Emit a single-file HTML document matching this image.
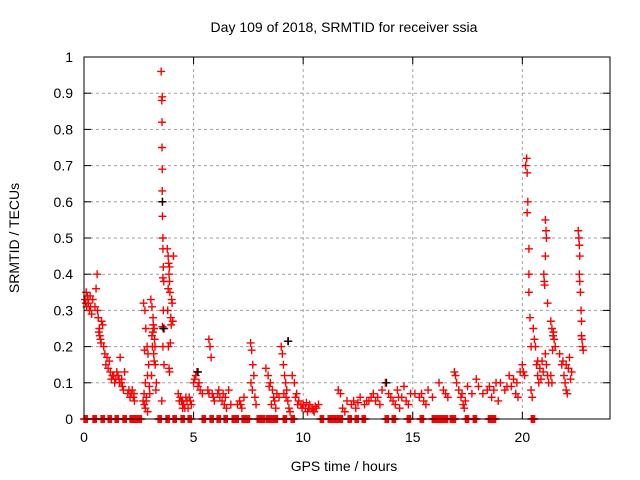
<!DOCTYPE html>
<html><head><meta charset="utf-8"><style>
body{margin:0;background:#fff;}
svg{display:block;font-family:"Liberation Sans",sans-serif;}
</style></head><body>
<svg id="chart" width="640" height="480" viewBox="0 0 640 480">
<rect width="640" height="480" fill="#fff"/>
<text x="344" y="32" font-size="14" text-anchor="middle">Day 109 of 2018, SRMTID for receiver ssia</text>
<text x="344" y="471" font-size="14" text-anchor="middle">GPS time / hours</text>
<text transform="translate(19,238) rotate(-90)" font-size="14" text-anchor="middle">SRMTID / TECUs</text>
<g id="grid"></g>
<g id="ticks"></g>
<g id="marks"></g>
<rect x="84" y="57" width="526" height="362" fill="none" stroke="#000" stroke-width="1"/>
</svg>
<script>
const xTicks=[0,5,10,15,20];
const yTicks=[0,0.1,0.2,0.3,0.4,0.5,0.6,0.7,0.8,0.9,1];
const yTickLabels=["0","0.1","0.2","0.3","0.4","0.5","0.6","0.7","0.8","0.9","1"];
const points=[
[0.05,0.33],[0.1,0.35],[0.15,0.34],[0.2,0.32],[0.25,0.30],[0.3,0.31],[0.35,0.29],[0.4,0.33],[0.12,0.31],[0.28,0.34],[0.08,0.32],[0.18,0.33],
[0.6,0.40],[0.55,0.36],[0.65,0.28],[0.7,0.25],[0.75,0.22],[0.8,0.27],[0.85,0.26],[0.9,0.20],[0.95,0.18],[0.72,0.23],[0.5,0.31],[0.62,0.30],[0.68,0.24],[0.78,0.21],
[1.0,0.15],[1.1,0.14],[1.2,0.13],[1.15,0.16],[1.3,0.12],[1.05,0.17],[1.4,0.10],[1.25,0.11],[1.35,0.12],[1.45,0.11],
[1.5,0.13],[1.6,0.11],[1.7,0.10],[1.75,0.09],[1.55,0.12],[1.65,0.17],[1.8,0.08],[1.85,0.13],[1.62,0.10],[1.72,0.11],
[2.0,0.07],[2.1,0.06],[2.2,0.08],[2.3,0.05],[2.25,0.06],[2.15,0.07],[2.05,0.08],[2.28,0.07],
[2.7,0.05],[2.75,0.04],[2.8,0.03],[2.85,0.06],[2.9,0.02],[2.72,0.32],[2.78,0.30],[2.82,0.25],[2.88,0.20],[2.92,0.18],[2.95,0.15],[2.8,0.10],[2.9,0.12],[2.98,0.09],[3.0,0.07],[2.76,0.19],[2.84,0.05],[2.74,0.07],
[3.05,0.33],[3.1,0.31],[3.15,0.28],[3.2,0.25],[3.22,0.22],[3.12,0.20],[3.18,0.18],[3.25,0.15],[3.08,0.12],[3.3,0.10],[3.28,0.08],[3.14,0.24],[3.2,0.16],[3.1,0.23],[3.16,0.26],[3.24,0.2],
[3.52,0.96],[3.55,0.88],[3.57,0.89],[3.56,0.82],[3.56,0.75],[3.57,0.69],[3.57,0.63],[3.58,0.60],[3.58,0.56],[3.6,0.50],[3.6,0.47],[3.62,0.42],[3.6,0.39],[3.64,0.38],[3.62,0.30],[3.66,0.25],[3.6,0.20],[3.65,0.15],[3.55,0.05],[3.58,0.255],
[3.8,0.47],[3.84,0.45],[3.86,0.43],[3.88,0.40],[3.9,0.38],[3.92,0.35],[3.82,0.30],[3.96,0.28],[3.98,0.26],[3.85,0.20],[3.88,0.14],[3.9,0.13],[4.0,0.33],[4.02,0.32],[4.05,0.27],[3.94,0.21],[4.08,0.45],[3.9,0.42],[3.84,0.36],
[4.3,0.07],[4.4,0.06],[4.5,0.05],[4.55,0.04],[4.6,0.03],[4.7,0.05],[4.8,0.06],[4.9,0.04],[4.45,0.05],[4.65,0.06],[4.75,0.03],[4.35,0.05],[4.5,0.03],[4.85,0.05],
[5.0,0.10],[5.1,0.12],[5.15,0.13],[5.2,0.09],[5.3,0.08],[5.4,0.07],[5.25,0.10],[5.05,0.11],
[5.7,0.22],[5.75,0.20],[5.8,0.17],[5.65,0.08],[5.85,0.07],[5.9,0.06],[5.95,0.05],[5.7,0.07],
[6.1,0.07],[6.2,0.06],[6.3,0.05],[6.4,0.04],[6.5,0.03],[6.6,0.08],[6.7,0.04],[6.35,0.07],[6.15,0.08],[6.45,0.06],
[7.0,0.04],[7.1,0.05],[7.2,0.03],[7.3,0.06],[7.15,0.04],
[7.6,0.21],[7.65,0.19],[7.7,0.15],[7.75,0.12],[7.68,0.08],[7.8,0.06],[7.85,0.04],[7.62,0.10],
[8.3,0.14],[8.4,0.12],[8.5,0.10],[8.6,0.08],[8.7,0.05],[8.8,0.07],[8.9,0.06],[8.55,0.04],[8.45,0.09],[8.75,0.03],[8.65,0.06],
[9.0,0.20],[9.05,0.18],[9.1,0.15],[9.15,0.12],[9.2,0.10],[9.25,0.08],[9.3,0.05],[9.35,0.03],[9.4,0.02],[9.3,0.215],[9.12,0.07],[9.22,0.06],
[9.5,0.12],[9.6,0.10],[9.7,0.07],[9.8,0.05],[9.9,0.04],[9.95,0.03],[9.65,0.06],[9.75,0.04],
[10.0,0.04],[10.1,0.03],[10.2,0.02],[10.3,0.04],[10.4,0.03],[10.5,0.02],[10.6,0.03],[10.7,0.04],[10.25,0.03],[10.55,0.035],[10.15,0.045],[10.45,0.025],
[11.6,0.08],[11.7,0.07],[11.8,0.03],[11.9,0.02],
[12.0,0.05],[12.2,0.04],[12.4,0.03],[12.6,0.06],[12.8,0.04],[12.9,0.05],[12.5,0.045],[12.3,0.05],
[13.0,0.05],[13.2,0.07],[13.4,0.06],[13.5,0.04],[13.6,0.08],[13.75,0.10],[13.9,0.07],[13.3,0.05],[13.1,0.06],
[14.0,0.06],[14.1,0.05],[14.2,0.04],[14.3,0.08],[14.4,0.03],[14.5,0.06],[14.6,0.09],[14.8,0.04],[14.9,0.07],[14.7,0.05],[14.35,0.06],
[15.1,0.07],[15.3,0.06],[15.5,0.05],[15.6,0.04],[15.7,0.08],[15.9,0.06],[15.4,0.07],
[16.2,0.10],[16.4,0.08],[16.5,0.07],[16.6,0.06],[16.9,0.13],[16.95,0.12],
[17.0,0.10],[17.1,0.08],[17.2,0.06],[17.3,0.04],[17.35,0.03],[17.5,0.09],[17.7,0.07],[17.9,0.11],[17.4,0.05],[17.25,0.07],
[18.0,0.09],[18.2,0.07],[18.4,0.08],[18.6,0.06],[18.8,0.10],[18.9,0.05],[18.5,0.09],[18.7,0.08],
[19.0,0.10],[19.2,0.08],[19.4,0.12],[19.5,0.09],[19.6,0.11],[19.7,0.07],[19.8,0.06],[19.9,0.13],[19.3,0.09],[19.75,0.1],
[20.0,0.15],[20.05,0.13],[20.2,0.72],[20.15,0.70],[20.22,0.68],[20.25,0.60],[20.22,0.57],[20.3,0.47],[20.3,0.40],[20.3,0.35],[20.35,0.28],[20.4,0.20],[20.1,0.12],[20.4,0.08],[20.45,0.06],
[20.5,0.25],[20.6,0.20],[20.65,0.15],[20.7,0.12],[20.75,0.10],[20.8,0.14],[20.9,0.16],[20.95,0.13],[20.55,0.22],[20.85,0.11],[20.7,0.16],
[21.05,0.55],[21.08,0.52],[21.1,0.50],[21.05,0.45],[20.98,0.40],[21.0,0.38],[21.02,0.37],[21.15,0.32],[21.2,0.10],[21.15,0.12],[21.1,0.15],[21.05,0.18],
[21.3,0.27],[21.35,0.25],[21.4,0.23],[21.45,0.22],[21.5,0.20],[21.38,0.19],[21.3,0.12],[21.35,0.10],[21.42,0.24],
[21.7,0.18],[21.8,0.15],[21.9,0.12],[21.95,0.10],[22.0,0.08],[22.05,0.07],[22.1,0.14],[22.15,0.17],[22.2,0.11],[21.85,0.16],[22.25,0.13],[22.0,0.15],
[22.55,0.52],[22.58,0.50],[22.6,0.48],[22.62,0.45],[22.6,0.40],[22.62,0.38],[22.65,0.35],[22.68,0.30],[22.7,0.27],[22.7,0.23],[22.72,0.22],[22.75,0.20],[22.78,0.19]
];
const zeroTimes=[0,0.41,0.78,1.10,1.42,1.78,2.10,2.28,2.47,3.38,3.74,4.06,4.43,4.75,5.39,5.75,6.07,6.39,6.76,6.89,7.21,7.40,7.90,8.08,8.31,8.49,8.68,9.09,9.45,10.78,11.14,11.32,11.51,11.64,12.05,12.37,12.69,13.74,14.06,14.75,15.34,15.89,16.07,16.26,16.44,16.71,16.80,17.40,17.76,18.45,18.63,20.41];
const blackPoints=[[3.58,0.60],[3.62,0.25],[9.32,0.215],[13.8,0.10],[5.2,0.13]];

const NS="http://www.w3.org/2000/svg";
const X0=84,X1=610,Y0=419,Y1=57,XMAX=24;
function xs(t){return X0+t/XMAX*(X1-X0);}
function ys(v){return Y0-v*(Y0-Y1);}
function mk(tag,attrs,parent){const e=document.createElementNS(NS,tag);for(const k in attrs)e.setAttribute(k,attrs[k]);parent.appendChild(e);return e;}
const grid=document.getElementById('grid'),ticks=document.getElementById('ticks'),marks=document.getElementById('marks');
yTicks.forEach((v,i)=>{
  const y=ys(v);
  if(i>0&&i<yTicks.length-1){const g=mk('line',{x1:X0,x2:X1,y1:y,y2:y,stroke:'#a0a0a0','stroke-dasharray':'3,3'},grid);
  
  }
  mk('line',{x1:X0,x2:X0+7,y1:y,y2:y,stroke:'#000'},ticks);
  mk('line',{x1:X1-7,x2:X1,y1:y,y2:y,stroke:'#000'},ticks);
  const t=mk('text',{x:73,y:y+5,'font-size':14,'text-anchor':'end'},ticks);
  t.textContent=yTickLabels[i];
  
  
});
xTicks.forEach(v=>{
  const x=xs(v);
  if(v>0){const g=mk('line',{x1:x,x2:x,y1:Y1,y2:Y0,stroke:'#a0a0a0','stroke-dasharray':'3,3'},grid);
  
  }
  mk('line',{x1:x,x2:x,y1:Y0,y2:Y0-7,stroke:'#000'},ticks);
  mk('line',{x1:x,x2:x,y1:Y1,y2:Y1+7,stroke:'#000'},ticks);
  const t=mk('text',{x:x,y:442,'font-size':14,'text-anchor':'middle'},ticks);
  t.textContent=String(v);
  
  
});
function plus(t,v,col){
  const x=xs(t),y=ys(v);
  const p=mk('path',{d:`M${x-4},${y}h8M${x},${y-4}v8`,stroke:col,'stroke-width':1.4,fill:'none'},marks);
  
  
}
points.forEach(p=>plus(p[0],p[1],'#ff0000'));
zeroTimes.forEach(t=>{plus(t,0,'#ff0000');plus(t+0.05,0,'#ff0000');plus(t+0.1,0,'#ff0000');plus(t+0.15,0,'#ff0000');});
blackPoints.forEach(p=>plus(p[0],p[1],'#000000'));
</script>
</body></html>
